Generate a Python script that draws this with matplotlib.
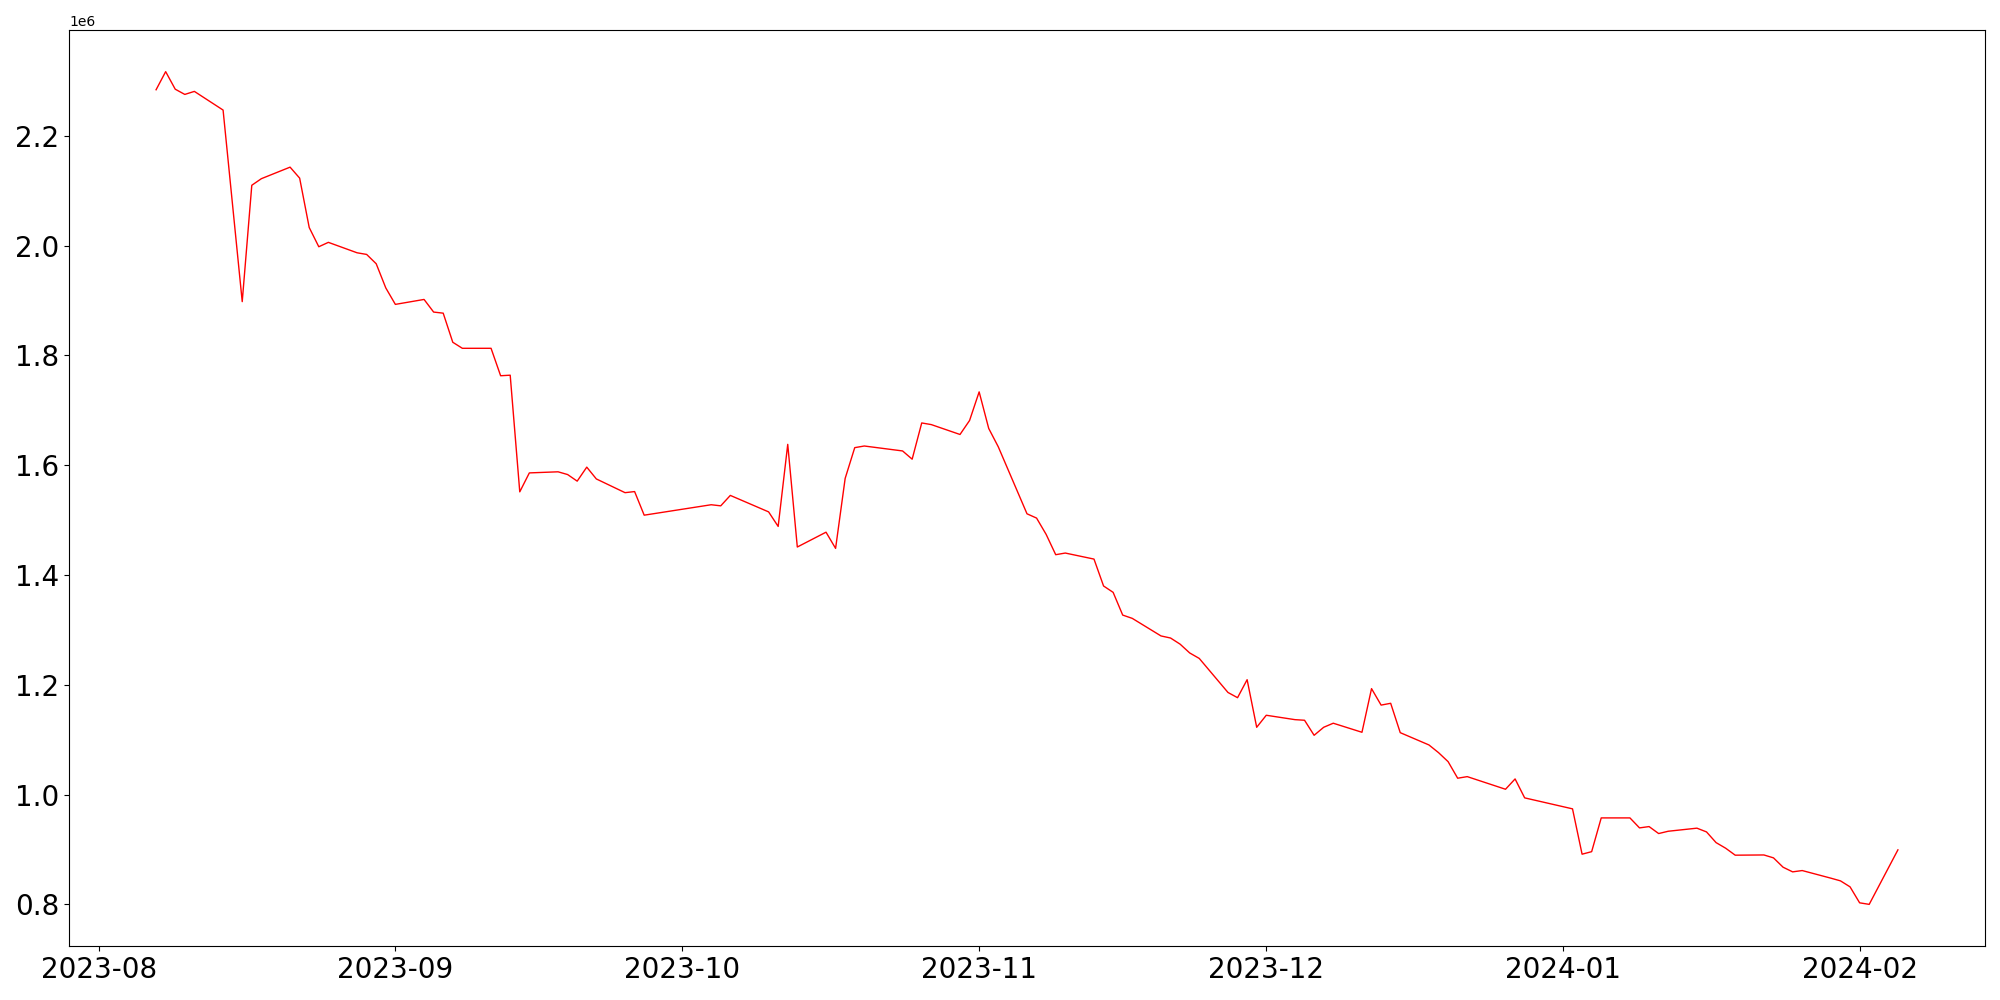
import matplotlib
matplotlib.use("Agg")
import matplotlib.pyplot as plt
import matplotlib.dates as mdates
import pandas as pd

dates = [
    "2023-08-07", "2023-08-08", "2023-08-09", "2023-08-10", "2023-08-11",
    "2023-08-14", "2023-08-16", "2023-08-17", "2023-08-18",
    "2023-08-21", "2023-08-22", "2023-08-23", "2023-08-24", "2023-08-25",
    "2023-08-28", "2023-08-29", "2023-08-30", "2023-08-31", "2023-09-01",
    "2023-09-04", "2023-09-05", "2023-09-06", "2023-09-07", "2023-09-08",
    "2023-09-11", "2023-09-12", "2023-09-13", "2023-09-14", "2023-09-15",
    "2023-09-18", "2023-09-19", "2023-09-20", "2023-09-21", "2023-09-22",
    "2023-09-25", "2023-09-26", "2023-09-27",
    "2023-10-04", "2023-10-05", "2023-10-06",
    "2023-10-10", "2023-10-11", "2023-10-12", "2023-10-13",
    "2023-10-16", "2023-10-17", "2023-10-18", "2023-10-19", "2023-10-20",
    "2023-10-24", "2023-10-25", "2023-10-26", "2023-10-27",
    "2023-10-30", "2023-10-31", "2023-11-01", "2023-11-02", "2023-11-03",
    "2023-11-06", "2023-11-07", "2023-11-08", "2023-11-09", "2023-11-10",
    "2023-11-13", "2023-11-14", "2023-11-15", "2023-11-16", "2023-11-17",
    "2023-11-20", "2023-11-21", "2023-11-22", "2023-11-23", "2023-11-24",
    "2023-11-27", "2023-11-28", "2023-11-29", "2023-11-30", "2023-12-01",
    "2023-12-04", "2023-12-05", "2023-12-06", "2023-12-07", "2023-12-08",
    "2023-12-11", "2023-12-12", "2023-12-13", "2023-12-14", "2023-12-15",
    "2023-12-18", "2023-12-19", "2023-12-20", "2023-12-21", "2023-12-22",
    "2023-12-26", "2023-12-27", "2023-12-28",
    "2024-01-02", "2024-01-03", "2024-01-04", "2024-01-05",
    "2024-01-08", "2024-01-09", "2024-01-10", "2024-01-11", "2024-01-12",
    "2024-01-15", "2024-01-16", "2024-01-17", "2024-01-18", "2024-01-19",
    "2024-01-22", "2024-01-23", "2024-01-24", "2024-01-25", "2024-01-26",
    "2024-01-29", "2024-01-30", "2024-01-31", "2024-02-01", "2024-02-02",
    "2024-02-05",
]

values = [
    2.284, 2.317, 2.285, 2.2755, 2.281,
    2.247, 1.898, 2.110, 2.122,
    2.143, 2.123, 2.033, 1.998, 2.006,
    1.987, 1.984, 1.967, 1.923, 1.893,
    1.902, 1.879, 1.877, 1.824, 1.813,
    1.813, 1.763, 1.764, 1.5515, 1.586,
    1.588, 1.583, 1.571, 1.5965, 1.575,
    1.550, 1.552, 1.509,
    1.528, 1.526, 1.545,
    1.515, 1.4885, 1.638, 1.451,
    1.478, 1.4485, 1.576, 1.632, 1.635,
    1.626, 1.611, 1.677, 1.674,
    1.656, 1.6815, 1.7336, 1.667, 1.6335,
    1.5115, 1.5037, 1.474, 1.437, 1.440,
    1.429, 1.380, 1.3684, 1.327, 1.321,
    1.289, 1.2852, 1.274, 1.258, 1.248,
    1.186, 1.1765, 1.2093, 1.1226, 1.1445,
    1.1365, 1.1354, 1.108, 1.1226, 1.130,
    1.1135, 1.193, 1.163, 1.1663, 1.1128,
    1.0904, 1.0764, 1.060, 1.0298, 1.0327,
    1.0097, 1.0285, 0.994,
    0.974, 0.8914, 0.896, 0.9575,
    0.9575, 0.9393, 0.9417, 0.929, 0.9332,
    0.9388, 0.932, 0.9125, 0.9023, 0.8896,
    0.890, 0.8847, 0.8677, 0.8592, 0.8616,
    0.8477, 0.8428, 0.8319, 0.8028, 0.800,
    0.8993,
]

x = pd.to_datetime(dates)
y = [v * 1e6 for v in values]

fig = plt.figure(figsize=(20, 10), dpi=100)
ax = fig.add_subplot(111)
ax.plot(x, y, color="red", linewidth=1.0)

ax.xaxis.set_major_locator(mdates.MonthLocator())
ax.xaxis.set_major_formatter(mdates.DateFormatter("%Y-%m"))
ax.tick_params(axis="both", labelsize=20)

fig.subplots_adjust(left=0.0345, right=0.9925, top=0.97, bottom=0.054)
fig.savefig("out.png", dpi=100)
